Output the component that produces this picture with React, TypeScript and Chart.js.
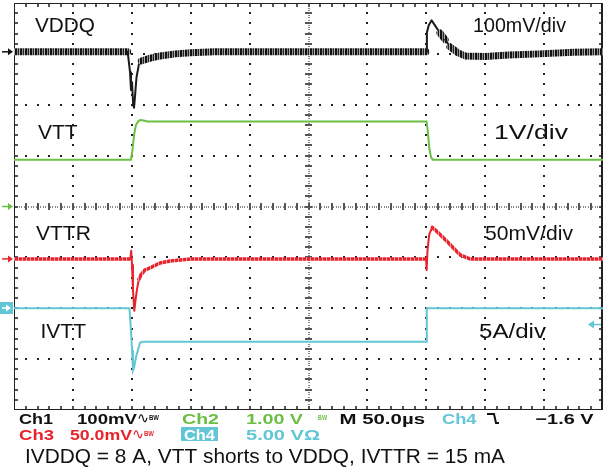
import React, { useEffect, useRef } from 'react';
import { Chart, registerables } from 'chart.js';

Chart.register(...registerables);

// ---- Time base: 50 µs/div, 10 divisions ----
const T_MIN = 0;
const T_MAX = 500;
const T_PER_DIV = 50;
const Y_DIVS = 8;

// ---- Ch1: VDDQ, deviation in mV, 100 mV/div ----
const vddqTime = [0, 96.5, 98.5, 99.3, 100.2, 101.2, 101.9, 102.8, 104, 106, 108, 115, 124, 137, 150, 170, 349.8, 350.5, 352, 354.5, 356.5, 361.6, 366, 370, 377, 383, 400, 420, 446, 475, 500];
const vddqMv = [0, 0, -40, -75, -60, -105, -110, -85, -50, -25, -18, -13, -8, -4, -2, 0, 0, 38, 52, 62, 55, 37, 24, 10, -2, -8, -9, -6, -4, -1, 0];

// ---- Ch2: VTT, volts, 1 V/div ----
const vttTime = [0, 99.3, 100.5, 102, 103.5, 105.3, 107, 110, 113, 350.2, 351.2, 352.5, 354, 355.5, 500];
const vttV = [0.92, 0.92, 1.1, 1.42, 1.6, 1.67, 1.7, 1.69, 1.67, 1.67, 1.5, 1.15, 0.97, 0.92, 0.92];

// ---- Ch3: VTTR, deviation in mV, 50 mV/div ----
const vttrTime = [0, 98.8, 99.5, 100.2, 101, 102.1, 103, 104.4, 106, 107.8, 111, 115.5, 124, 132.4, 150, 349.8, 350.3, 351, 352.5, 355, 359, 366, 372, 378.6, 387, 500];
const vttrMv = [0, 0, 8, -6, -30, -51, -42, -30, -20, -15.7, -11, -8.8, -4, -2, 0, 0, -11, 8, 24, 31, 27, 19, 12, 4, 0, 0];

// ---- Ch4: IVTT, amps, 5 A/div ----
const ivttTime = [0, 98, 99.3, 100.2, 101, 102, 103.6, 105.5, 107, 109, 350.2, 350.4, 500];
const ivttA = [0, 0, -2.2, -4.1, -6.1, -5.8, -4.8, -4, -3.4, -3.3, -3.3, 0, 0];

// channel scale (units per division) and vertical position (divisions from centre)
const chScales = [100, 1, 50, 5];
const chPositions = [3.04, 0, -1.03, -2.0];
const TRIGGER_LEVEL = -1.6; // on Ch4

// ---- Text ----
const traceLabels = ['VDDQ', 'VTT', 'VTTR', 'IVTT'];
const scaleLabels = ['100mV/div', '1V/div', '50mV/div', '5A/div'];
const caption = 'IVDDQ = 8 A, VTT shorts to VDDQ, IVTTR = 15 mA';

const COL_BLACK = '#1a1a1a';
const COL_GREEN = '#6cbf45';
const COL_RED = '#e8232b';
const COL_CYAN = '#63c6d6';
const COL_GRID = '#222222';

type Pt = { x: number; y: number };
const toPts = (t: number[], v: number[], scale: number, pos: number): Pt[] =>
  t.map((tt, i) => ({ x: tt, y: pos + v[i] / scale }));

function fitText(ctx: CanvasRenderingContext2D, s: string, x: number, base: number, font: string, color: string, width?: number) {
  ctx.save();
  ctx.font = font;
  ctx.fillStyle = color;
  ctx.textBaseline = 'alphabetic';
  ctx.textAlign = 'left';
  const w = ctx.measureText(s).width;
  ctx.translate(x, base);
  if (width && w > 0) ctx.scale(width / w, 1);
  ctx.fillText(s, 0, 0);
  ctx.restore();
}

function arrowRight(ctx: CanvasRenderingContext2D, x0: number, x1: number, y: number, color: string) {
  ctx.save();
  ctx.strokeStyle = color;
  ctx.fillStyle = color;
  ctx.lineWidth = 1.5;
  ctx.beginPath();
  ctx.moveTo(x0, y);
  ctx.lineTo(x1 - 4, y);
  ctx.stroke();
  ctx.beginPath();
  ctx.moveTo(x1, y);
  ctx.lineTo(x1 - 5, y - 3.5);
  ctx.lineTo(x1 - 5, y + 3.5);
  ctx.closePath();
  ctx.fill();
  ctx.restore();
}

function arrowLeft(ctx: CanvasRenderingContext2D, x0: number, x1: number, y: number, color: string) {
  ctx.save();
  ctx.strokeStyle = color;
  ctx.fillStyle = color;
  ctx.lineWidth = 1.5;
  ctx.beginPath();
  ctx.moveTo(x0 + 4, y);
  ctx.lineTo(x1, y);
  ctx.stroke();
  ctx.beginPath();
  ctx.moveTo(x0, y);
  ctx.lineTo(x0 + 6, y - 4);
  ctx.lineTo(x0 + 6, y + 4);
  ctx.closePath();
  ctx.fill();
  ctx.restore();
}

function drawGrid(chart: any) {
  const ctx: CanvasRenderingContext2D = chart.ctx;
  const a = chart.chartArea;
  const left = a.left;
  const top = a.top;
  const w = a.right - a.left;
  const h = a.bottom - a.top;
  const nx = (T_MAX - T_MIN) / T_PER_DIV;
  const dx = w / nx;
  const dy = h / Y_DIVS;
  const cx = left + (nx / 2) * dx;
  const cy = top + (Y_DIVS / 2) * dy;
  ctx.save();
  ctx.fillStyle = COL_GRID;
  // dotted major lines
  for (let i = 1; i < nx; i++) {
    if (i === nx / 2) continue;
    const gx = Math.round(left + i * dx);
    for (let j = 1; j < Y_DIVS * 5; j++) {
      const gy = Math.round(top + (j * dy) / 5);
      ctx.fillRect(gx - 1, gy - 1, 2, 2);
    }
  }
  for (let j = 1; j < Y_DIVS; j++) {
    if (j === Y_DIVS / 2) continue;
    const gy = Math.round(top + j * dy);
    for (let i = 1; i < nx * 5; i++) {
      const gx = Math.round(left + (i * dx) / 5);
      ctx.fillRect(gx - 1, gy - 1, 2, 2);
    }
  }
  // centre cross
  ctx.fillStyle = '#8a8a8a';
  for (let px = left; px <= left + w; px += 2.4) ctx.fillRect(Math.round(px), Math.round(cy) - 1, 1, 2);
  for (let py = top; py <= top + h; py += 2.4) ctx.fillRect(Math.round(cx) - 1, Math.round(py), 2, 1);
  ctx.fillStyle = '#555555';
  for (let i = 1; i < nx * 5; i++) {
    const gx = Math.round(left + (i * dx) / 5);
    ctx.fillRect(gx - 1, Math.round(cy) - 4, 2, 7);
    ctx.fillRect(gx - 1, Math.round(top), 2, 4);
    ctx.fillRect(gx - 1, Math.round(top + h) - 4, 2, 4);
  }
  for (let j = 1; j < Y_DIVS * 5; j++) {
    const gy = Math.round(top + (j * dy) / 5);
    ctx.fillRect(Math.round(cx) - 4, gy - 1, 7, 2);
    ctx.fillRect(Math.round(left), gy - 1, 4, 2);
    ctx.fillRect(Math.round(left + w) - 4, gy - 1, 4, 2);
  }
  // border
  ctx.strokeStyle = '#222';
  ctx.lineWidth = 1;
  ctx.strokeRect(Math.round(left) + 0.5, Math.round(top) + 0.5, Math.round(w) - 1, Math.round(h) - 1);
  ctx.fillStyle = '#222';
  ctx.fillRect(Math.round(left + w) - 2, Math.round(top), 2, Math.round(h));
  ctx.restore();
}

const scopePlugin = {
  id: 'scopeDecor',
  beforeDatasetsDraw(chart: any) {
    drawGrid(chart);
  },
  afterDraw(chart: any) {
    const { ctx, chartArea: a, scales } = chart;
    const ys = scales.y;
    const labelFont = '21px "Liberation Sans", Arial, sans-serif';

    // trace labels
    fitText(ctx, traceLabels[0], 35, 32, labelFont, '#111', 60);
    fitText(ctx, scaleLabels[0], 473, 32, labelFont, '#111', 93);
    fitText(ctx, traceLabels[1], 38, 138.5, labelFont, '#111');
    fitText(ctx, scaleLabels[1], 494, 138.5, labelFont, '#111', 74);
    fitText(ctx, traceLabels[2], 36, 240, labelFont, '#111');
    fitText(ctx, scaleLabels[2], 485, 239.5, labelFont, '#111', 88);
    fitText(ctx, traceLabels[3], 40.5, 338, labelFont, '#111');
    fitText(ctx, scaleLabels[3], 479, 338, labelFont, '#111', 67);

    // channel ground markers
    const yCh = chPositions.map((p) => ys.getPixelForValue(p));
    arrowRight(ctx, 2, 13, yCh[0], '#111');
    arrowRight(ctx, 2, 13, yCh[1], COL_GREEN);
    arrowRight(ctx, 2, 13, yCh[2], COL_RED);
    ctx.save();
    ctx.fillStyle = COL_CYAN;
    ctx.fillRect(0, Math.round(yCh[3]) - 6, 13, 12);
    ctx.restore();
    arrowRight(ctx, 2, 11, Math.round(yCh[3]), '#ffffff');

    // trigger level marker
    const yTrig = ys.getPixelForValue(chPositions[3] + TRIGGER_LEVEL / chScales[3]);
    arrowLeft(ctx, a.right - 15, a.right - 2, yTrig, COL_CYAN);

    // status lines
    const sf = 'bold 15px "Liberation Sans", Arial, sans-serif';
    const sym = '15px "DejaVu Sans", sans-serif';
    const tiny = 'bold 7px "Liberation Sans", Arial, sans-serif';
    const r1 = 424;
    const r2 = 440;
    fitText(ctx, 'Ch1', 19, r1, sf, '#111', 34);
    fitText(ctx, `${chScales[0]}mV`, 77, r1, sf, '#111', 60);
    fitText(ctx, '\u223F', 137, r1 - 1, sym, '#111', 12);
    fitText(ctx, 'BW', 149, r1 - 4, tiny, '#111', 10);
    fitText(ctx, 'Ch2', 182, r1, sf, COL_GREEN, 37);
    fitText(ctx, `${chScales[1].toFixed(2)} V`, 246, r1, sf, COL_GREEN, 57);
    fitText(ctx, 'BW', 318, r1 - 4, tiny, COL_GREEN, 9);
    fitText(ctx, `M ${T_PER_DIV.toFixed(1)}\u00B5s`, 339.5, r1, sf, '#111', 85.5);
    fitText(ctx, 'Ch4', 442, r1, sf, COL_CYAN, 34.5);
    // falling-edge trigger slope symbol
    ctx.save();
    ctx.strokeStyle = '#111';
    ctx.lineWidth = 2;
    ctx.beginPath();
    ctx.moveTo(487, 414);
    ctx.lineTo(494, 414);
    ctx.lineTo(496, 423);
    ctx.lineTo(499, 423);
    ctx.stroke();
    ctx.restore();
    fitText(ctx, `\u2212${Math.abs(TRIGGER_LEVEL).toFixed(1)} V`, 535.5, r1, sf, '#111', 58);

    fitText(ctx, 'Ch3', 19, r2, sf, COL_RED, 35);
    fitText(ctx, `${chScales[2].toFixed(1)}mV`, 70, r2, sf, COL_RED, 62);
    fitText(ctx, '\u223F', 132, r2 - 1, sym, COL_RED, 12);
    fitText(ctx, 'BW', 144, r2 - 4, tiny, COL_RED, 10);
    ctx.save();
    ctx.fillStyle = COL_CYAN;
    ctx.fillRect(181, 427, 37, 14);
    ctx.restore();
    fitText(ctx, 'Ch4', 184, r2, sf, '#ffffff', 31);
    fitText(ctx, `${chScales[3].toFixed(2)} V\u03A9`, 246, r2, sf, COL_CYAN, 74);

    // caption
    fitText(ctx, caption, 25, 463, '21px "Liberation Sans", Arial, sans-serif', '#111', 480);
  },
};

function stripePattern(colors: string[]): CanvasPattern | string {
  const c = document.createElement('canvas');
  c.width = colors.length;
  c.height = 1;
  const g = c.getContext('2d');
  if (!g) return colors[0];
  colors.forEach((col, i) => {
    g.fillStyle = col;
    g.fillRect(i, 0, 1, 1);
  });
  return g.createPattern(c, 'repeat') || colors[0];
}

const isSteep = (c: any, scale: number, limit: number) => {
  const dx = c.p1.parsed.x - c.p0.parsed.x;
  const dy = Math.abs(c.p1.parsed.y - c.p0.parsed.y) * scale;
  return dx > 0 && dy / dx > limit;
};

export default function App() {
  const ref = useRef<HTMLCanvasElement>(null);
  useEffect(() => {
    document.body.style.margin = '0';
    const canvas = ref.current;
    if (!canvas) return;
    const blackNoise = stripePattern(['#111111', '#111111', '#8a8a8a', '#222222', '#b0b0b0']);
    const redNoise = stripePattern([COL_RED, COL_RED, '#f29a9c', COL_RED]);
    const chart = new Chart(canvas, {
      type: 'line',
      data: {
        datasets: [
          {
            label: traceLabels[0],
            data: toPts(vddqTime, vddqMv, chScales[0], chPositions[0]),
            borderColor: blackNoise,
            borderWidth: 7,
            borderJoinStyle: 'round',
            borderCapStyle: 'round',
            segment: {
              borderWidth: (c: any) => (isSteep(c, chScales[0], 3) ? 2 : 7),
              borderColor: (c: any) => (isSteep(c, chScales[0], 3) ? COL_BLACK : blackNoise),
            },
          },
          {
            label: traceLabels[1],
            data: toPts(vttTime, vttV, chScales[1], chPositions[1]),
            borderColor: COL_GREEN,
            borderWidth: 2,
          },
          {
            label: traceLabels[2],
            data: toPts(vttrTime, vttrMv, chScales[2], chPositions[2]),
            borderColor: redNoise,
            borderWidth: 3.5,
            borderJoinStyle: 'round',
            borderCapStyle: 'round',
            segment: {
              borderWidth: (c: any) => (isSteep(c, chScales[2], 2.5) ? 2 : 3.5),
              borderColor: (c: any) => (isSteep(c, chScales[2], 2.5) ? COL_RED : redNoise),
            },
          },
          {
            label: traceLabels[3],
            data: toPts(ivttTime, ivttA, chScales[3], chPositions[3]),
            borderColor: COL_CYAN,
            borderWidth: 2,
          },
        ] as any,
      },
      options: {
        responsive: false,
        animation: false,
        devicePixelRatio: 1,
        layout: { padding: { left: 14, top: 3, right: 4, bottom: 61 } },
        elements: { point: { radius: 0 }, line: { tension: 0 } },
        scales: {
          x: { type: 'linear', min: T_MIN, max: T_MAX, display: false },
          y: { type: 'linear', min: -Y_DIVS / 2, max: Y_DIVS / 2, display: false },
        },
        plugins: { legend: { display: false }, tooltip: { enabled: false } },
      },
      plugins: [scopePlugin],
    } as any);
    return () => chart.destroy();
  }, []);
  return (
    <div style={{ position: 'absolute', left: 0, top: 0, width: 607, height: 471, background: '#fff' }}>
      <canvas ref={ref} width={607} height={471} style={{ display: 'block', width: 607, height: 471 }} />
    </div>
  );
}
